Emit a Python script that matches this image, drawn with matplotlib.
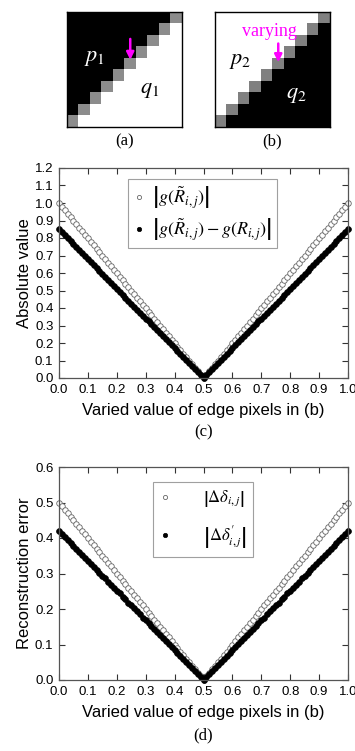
import numpy as np
import matplotlib.pyplot as plt

plt.rcParams['font.family'] = ['Liberation Sans', 'DejaVu Sans']
plt.rcParams['mathtext.fontset'] = 'stix'

# ---- pixel patches (a) and (b), 10x10 grey levels ----
patch_a = [
    [0, 0, 0, 0, 0, 0, 0, 0, 0, 0.55],
    [0, 0, 0, 0, 0, 0, 0, 0, 0.55, 1],
    [0, 0, 0, 0, 0, 0, 0, 0.55, 1, 1],
    [0, 0, 0, 0, 0, 0, 0.55, 1, 1, 1],
    [0, 0, 0, 0, 0, 0.55, 1, 1, 1, 1],
    [0, 0, 0, 0, 0.55, 1, 1, 1, 1, 1],
    [0, 0, 0, 0.55, 1, 1, 1, 1, 1, 1],
    [0, 0, 0.55, 1, 1, 1, 1, 1, 1, 1],
    [0, 0.55, 1, 1, 1, 1, 1, 1, 1, 1],
    [0.55, 1, 1, 1, 1, 1, 1, 1, 1, 1],
]
patch_b = [
    [1, 1, 1, 1, 1, 1, 1, 1, 1, 0.5],
    [1, 1, 1, 1, 1, 1, 1, 1, 0.5, 0],
    [1, 1, 1, 1, 1, 1, 1, 0.5, 0, 0],
    [1, 1, 1, 1, 1, 1, 0.5, 0, 0, 0],
    [1, 1, 1, 1, 1, 0.5, 0, 0, 0, 0],
    [1, 1, 1, 1, 0.5, 0, 0, 0, 0, 0],
    [1, 1, 1, 0.5, 0, 0, 0, 0, 0, 0],
    [1, 1, 0.5, 0, 0, 0, 0, 0, 0, 0],
    [1, 0.5, 0, 0, 0, 0, 0, 0, 0, 0],
    [0.5, 0, 0, 0, 0, 0, 0, 0, 0, 0],
]

# ---- curves ----
varied = [0.00, 0.01, 0.02, 0.03, 0.04, 0.05, 0.06, 0.07, 0.08, 0.09,
          0.10, 0.11, 0.12, 0.13, 0.14, 0.15, 0.16, 0.17, 0.18, 0.19,
          0.20, 0.21, 0.22, 0.23, 0.24, 0.25, 0.26, 0.27, 0.28, 0.29,
          0.30, 0.31, 0.32, 0.33, 0.34, 0.35, 0.36, 0.37, 0.38, 0.39,
          0.40, 0.41, 0.42, 0.43, 0.44, 0.45, 0.46, 0.47, 0.48, 0.49,
          0.50, 0.51, 0.52, 0.53, 0.54, 0.55, 0.56, 0.57, 0.58, 0.59,
          0.60, 0.61, 0.62, 0.63, 0.64, 0.65, 0.66, 0.67, 0.68, 0.69,
          0.70, 0.71, 0.72, 0.73, 0.74, 0.75, 0.76, 0.77, 0.78, 0.79,
          0.80, 0.81, 0.82, 0.83, 0.84, 0.85, 0.86, 0.87, 0.88, 0.89,
          0.90, 0.91, 0.92, 0.93, 0.94, 0.95, 0.96, 0.97, 0.98, 0.99, 1.00]

g_abs = [1.00, 0.98, 0.96, 0.94, 0.92, 0.90, 0.88, 0.86, 0.84, 0.82,
         0.80, 0.78, 0.76, 0.74, 0.72, 0.70, 0.68, 0.66, 0.64, 0.62,
         0.60, 0.58, 0.56, 0.54, 0.52, 0.50, 0.48, 0.46, 0.44, 0.42,
         0.40, 0.38, 0.36, 0.34, 0.32, 0.30, 0.28, 0.26, 0.24, 0.22,
         0.20, 0.18, 0.16, 0.14, 0.12, 0.10, 0.08, 0.06, 0.04, 0.02,
         0.00, 0.02, 0.04, 0.06, 0.08, 0.10, 0.12, 0.14, 0.16, 0.18,
         0.20, 0.22, 0.24, 0.26, 0.28, 0.30, 0.32, 0.34, 0.36, 0.38,
         0.40, 0.42, 0.44, 0.46, 0.48, 0.50, 0.52, 0.54, 0.56, 0.58,
         0.60, 0.62, 0.64, 0.66, 0.68, 0.70, 0.72, 0.74, 0.76, 0.78,
         0.80, 0.82, 0.84, 0.86, 0.88, 0.90, 0.92, 0.94, 0.96, 0.98, 1.00]

g_diff = [0.850, 0.833, 0.816, 0.799, 0.782, 0.765, 0.748, 0.731, 0.714, 0.697,
          0.680, 0.663, 0.646, 0.629, 0.612, 0.595, 0.578, 0.561, 0.544, 0.527,
          0.510, 0.493, 0.476, 0.459, 0.442, 0.425, 0.408, 0.391, 0.374, 0.357,
          0.340, 0.323, 0.306, 0.289, 0.272, 0.255, 0.238, 0.221, 0.204, 0.187,
          0.170, 0.153, 0.136, 0.119, 0.102, 0.085, 0.068, 0.051, 0.034, 0.017,
          0.000, 0.017, 0.034, 0.051, 0.068, 0.085, 0.102, 0.119, 0.136, 0.153,
          0.170, 0.187, 0.204, 0.221, 0.238, 0.255, 0.272, 0.289, 0.306, 0.323,
          0.340, 0.357, 0.374, 0.391, 0.408, 0.425, 0.442, 0.459, 0.476, 0.493,
          0.510, 0.527, 0.544, 0.561, 0.578, 0.595, 0.612, 0.629, 0.646, 0.663,
          0.680, 0.697, 0.714, 0.731, 0.748, 0.765, 0.782, 0.799, 0.816, 0.833, 0.850]

delta = [0.50, 0.49, 0.48, 0.47, 0.46, 0.45, 0.44, 0.43, 0.42, 0.41,
         0.40, 0.39, 0.38, 0.37, 0.36, 0.35, 0.34, 0.33, 0.32, 0.31,
         0.30, 0.29, 0.28, 0.27, 0.26, 0.25, 0.24, 0.23, 0.22, 0.21,
         0.20, 0.19, 0.18, 0.17, 0.16, 0.15, 0.14, 0.13, 0.12, 0.11,
         0.10, 0.09, 0.08, 0.07, 0.06, 0.05, 0.04, 0.03, 0.02, 0.01,
         0.00, 0.01, 0.02, 0.03, 0.04, 0.05, 0.06, 0.07, 0.08, 0.09,
         0.10, 0.11, 0.12, 0.13, 0.14, 0.15, 0.16, 0.17, 0.18, 0.19,
         0.20, 0.21, 0.22, 0.23, 0.24, 0.25, 0.26, 0.27, 0.28, 0.29,
         0.30, 0.31, 0.32, 0.33, 0.34, 0.35, 0.36, 0.37, 0.38, 0.39,
         0.40, 0.41, 0.42, 0.43, 0.44, 0.45, 0.46, 0.47, 0.48, 0.49, 0.50]

delta_p = [0.420, 0.412, 0.403, 0.395, 0.386, 0.378, 0.370, 0.361, 0.353, 0.344,
           0.336, 0.328, 0.319, 0.311, 0.302, 0.294, 0.286, 0.277, 0.269, 0.260,
           0.252, 0.244, 0.235, 0.227, 0.218, 0.210, 0.202, 0.193, 0.185, 0.176,
           0.168, 0.160, 0.151, 0.143, 0.134, 0.126, 0.118, 0.109, 0.101, 0.092,
           0.084, 0.076, 0.067, 0.059, 0.050, 0.042, 0.034, 0.025, 0.017, 0.008,
           0.000, 0.008, 0.017, 0.025, 0.034, 0.042, 0.050, 0.059, 0.067, 0.076,
           0.084, 0.092, 0.101, 0.109, 0.118, 0.126, 0.134, 0.143, 0.151, 0.160,
           0.168, 0.176, 0.185, 0.193, 0.202, 0.210, 0.218, 0.227, 0.235, 0.244,
           0.252, 0.260, 0.269, 0.277, 0.286, 0.294, 0.302, 0.311, 0.319, 0.328,
           0.336, 0.344, 0.353, 0.361, 0.370, 0.378, 0.386, 0.395, 0.403, 0.412, 0.420]

xticks = [0.0, 0.1, 0.2, 0.3, 0.4, 0.5, 0.6, 0.7, 0.8, 0.9, 1.0]
yticks_c = [0.0, 0.1, 0.2, 0.3, 0.4, 0.5, 0.6, 0.7, 0.8, 0.9, 1.0, 1.1, 1.2]
yticks_d = [0.0, 0.1, 0.2, 0.3, 0.4, 0.5, 0.6]

W, H = 355, 751
fig = plt.figure(figsize=(W / 100, H / 100), dpi=100)


def px_axes(x0, y0, x1, y1):
    # pixel box (top-left origin) -> figure axes
    return fig.add_axes([x0 / W, 1 - y1 / H, (x1 - x0) / W, (y1 - y0) / H])


mag = '#ff00ff'

# (a)
axa = px_axes(67, 12, 182, 127)
axa.imshow(np.array(patch_a), cmap='gray', vmin=0, vmax=1, interpolation='nearest')
axa.set_xticks([]); axa.set_yticks([])
axa.text(1.9, 3.5, r'$p_1$', color='white', fontsize=16, ha='center', va='center')
axa.text(6.7, 6.2, r'$q_1$', color='black', fontsize=16, ha='center', va='center')
axa.annotate('', xy=(5.0, 3.9), xytext=(5.0, 1.6),
             arrowprops=dict(arrowstyle='-|>', color=mag, lw=1.8, mutation_scale=11))

# (b)
axb = px_axes(215, 12, 330, 127)
axb.imshow(np.array(patch_b), cmap='gray', vmin=0, vmax=1, interpolation='nearest')
axb.set_xticks([]); axb.set_yticks([])
axb.text(1.7, 3.7, r'$p_2$', color='black', fontsize=16, ha='center', va='center')
axb.text(6.6, 6.7, r'$q_2$', color='white', fontsize=16, ha='center', va='center')
axb.text(4.2, 1.2, 'varying', color=mag, fontsize=13, ha='center', va='center',
         family='Liberation Serif')
axb.annotate('', xy=(5.0, 4.1), xytext=(5.0, 2.0),
             arrowprops=dict(arrowstyle='-|>', color=mag, lw=1.8, mutation_scale=11))

for s in list(axa.spines.values()) + list(axb.spines.values()):
    s.set_linewidth(1.0)

fig.text(125 / W, 1 - 141 / H, '(a)', family='Liberation Serif', fontsize=12, ha='center', va='center')
fig.text(272 / W, 1 - 141 / H, '(b)', family='Liberation Serif', fontsize=12, ha='center', va='center')


def style(ax, yticks):
    ax.set_xlim(0, 1)
    ax.set_ylim(yticks[0], yticks[-1])
    ax.set_xticks(xticks)
    ax.set_yticks(yticks)
    ax.xaxis.set_major_formatter(plt.FormatStrFormatter('%.1f'))
    ax.yaxis.set_major_formatter(plt.FormatStrFormatter('%.1f'))
    ax.tick_params(direction='in', top=True, right=True, length=4, width=0.8,
                   labelsize=9.5, colors='#333333', labelcolor='black')
    ax.tick_params(axis='x', pad=4)
    ax.tick_params(axis='y', pad=4)
    for s in ax.spines.values():
        s.set_color('#555555')
        s.set_linewidth(0.9)
    ax.set_xlabel('Varied value of edge pixels in (b)', fontsize=12, labelpad=5)


# (c)
axc = px_axes(59, 168, 348, 378)
axc.plot(varied, g_abs, 'o', ms=4.0, mfc='white', mec='#666666', mew=0.6,
         label=r'$\left|g(\tilde{R}_{i,j})\right|$', clip_on=False)
axc.plot(varied, g_diff, 'o', ms=4.2, mfc='black', mec='black', mew=0.5,
         label=r'$\left|g(\tilde{R}_{i,j})-g(R_{i,j})\right|$', clip_on=False)
style(axc, yticks_c)
axc.set_ylabel('Absolute value', fontsize=12, labelpad=2)
leg = axc.legend(loc='upper left', bbox_to_anchor=(0.239, 0.948), borderaxespad=0,
                 fontsize=13, frameon=True, fancybox=False, handlelength=0.6,
                 handletextpad=0.4, borderpad=0.3, labelspacing=0.3, markerscale=0.75)
leg.get_frame().set_edgecolor('#888888')
leg.get_frame().set_linewidth(0.8)
fig.text(0.5 * (59 + 348) / W, 1 - 432 / H, '(c)', family='Liberation Serif',
         fontsize=12, ha='center', va='center')

# (d)
axd = px_axes(59, 467, 348, 680)
axd.plot(varied, delta, 'o', ms=4.0, mfc='white', mec='#666666', mew=0.6,
         label=r'$\left|\Delta\delta_{i,j}\right|$', clip_on=False)
axd.plot(varied, delta_p, 'o', ms=4.2, mfc='black', mec='black', mew=0.5,
         label=r'$\left|\Delta\delta^{\prime}_{i,j}\right|$', clip_on=False)
style(axd, yticks_d)
axd.set_ylabel('Reconstruction error', fontsize=12, labelpad=2)
leg = axd.legend(loc='upper left', bbox_to_anchor=(0.325, 0.930), borderaxespad=0,
                 fontsize=12, frameon=True, fancybox=False, handlelength=0.6,
                 handletextpad=2.0, borderpad=0.4, labelspacing=0.8, markerscale=0.75)
leg.get_frame().set_edgecolor('#888888')
leg.get_frame().set_linewidth(0.8)
fig.text(0.5 * (59 + 348) / W, 1 - 735 / H, '(d)', family='Liberation Serif',
         fontsize=12, ha='center', va='center')

fig.savefig('out.png', dpi=100)
